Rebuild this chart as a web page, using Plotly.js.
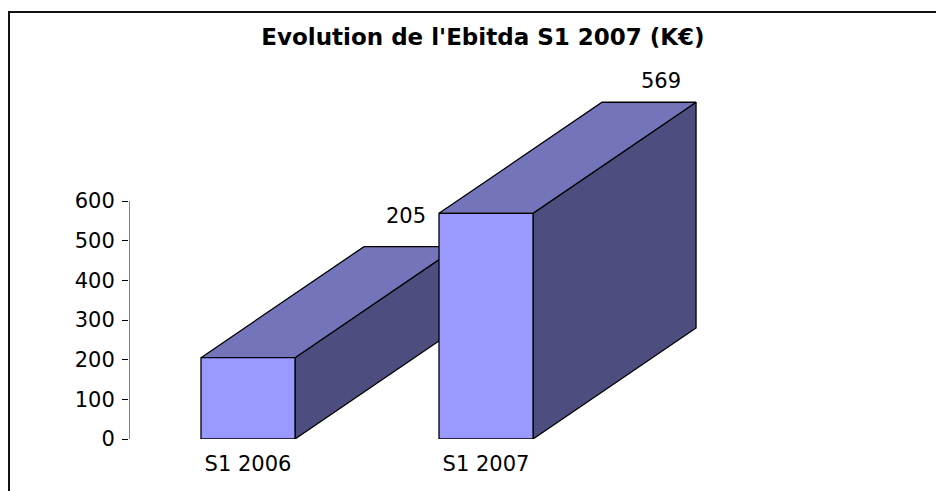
<!DOCTYPE html>
<html lang="fr">

<head>
    <meta charset="UTF-8">
    <title>Evolution de l'Ebitda S1 2007</title>
    <script src="https://cdn.plot.ly/plotly-3.0.1.min.js" charset="utf-8"></script>
    <style>
        body { margin: 0; }
        #wrap { position: relative; width: 936px; height: 491px; overflow: hidden; }
        #frame {
            position: absolute; left: 8px; top: 11px; width: 940px; height: 500px;
            border-top: 2px solid #111; border-left: 2px solid #111; pointer-events: none;
        }
    </style>
</head>

<body>
    <div id="wrap">
        <div id="plot" style="width: 936px; height: 491px;"></div>
        <div id="frame"></div>
    </div>

    <script>
        const categories = ['S1 2006', 'S1 2007'];
        const ebitda = [205, 569];
        const yTicks = [0, 100, 200, 300, 400, 500, 600];

        // fake 3D: depth offset of the boxes, in axis units
        const halfW = 0.1975;
        const depthX = 0.685;
        const depthY = 280;

        const frontColor = '#9999FF';
        const topColor = '#7474BA';
        const sideColor = '#4D4D7F';

        function face(xs, ys, color) {
            return {
                x: xs.concat([xs[0]]),
                y: ys.concat([ys[0]]),
                type: 'scatter',
                mode: 'lines',
                fill: 'toself',
                fillcolor: color,
                line: { color: '#000', width: 1.3 },
                hoverinfo: 'skip',
                showlegend: false
            };
        }

        const traces = [];
        ebitda.forEach((v, i) => {
            const l = i - halfW, r = i + halfW;
            traces.push(face([r, r + depthX, r + depthX, r], [0, depthY, v + depthY, v], sideColor));
            traces.push(face([l, r, r + depthX, l + depthX], [v, v, v + depthY, v + depthY], topColor));
            traces.push(face([l, r, r, l], [0, 0, v, v], frontColor));
        });

        const labelShift = [17, 7];
        const annotations = ebitda.map((v, i) => ({
            x: i + depthX - 0.02 + 0.07 * i,
            y: v + depthY,
            text: String(v),
            showarrow: false,
            yanchor: 'bottom',
            yshift: labelShift[i],
            font: { family: 'DejaVu Sans, Arial', size: 21, color: '#000' }
        }));

        const layout = {
            width: 936,
            height: 491,
            margin: { l: 129, r: 212, t: 60, b: 52 },
            paper_bgcolor: '#fff',
            plot_bgcolor: 'rgba(0,0,0,0)',
            font: { family: 'DejaVu Sans, Arial', size: 21, color: '#000' },
            title: {
                text: "<b>Evolution de l'Ebitda S1 2007 (K€)</b>",
                font: { family: 'DejaVu Sans, Arial', size: 23, color: '#000' },
                x: 0.516, xref: 'container', xanchor: 'center',
                y: 0.924, yref: 'container', yanchor: 'middle'
            },
            xaxis: {
                range: [-0.5, 2.0],
                tickvals: categories.map((c, i) => i),
                ticktext: categories,
                showgrid: false, zeroline: false, showline: false,
                ticks: '', ticklabelstandoff: 10
            },
            yaxis: {
                range: [0, 955.5],
                tickvals: yTicks,
                showgrid: false, zeroline: false, showline: false,
                ticks: 'outside', ticklen: 6, tickwidth: 1, tickcolor: '#000',
                ticklabelstandoff: 3
            },
            shapes: [{
                type: 'line', xref: 'x', yref: 'y',
                x0: -0.5, x1: -0.5, y0: 0, y1: yTicks[yTicks.length - 1],
                line: { color: '#000', width: 1 }
            }],
            annotations: annotations
        };

        Plotly.newPlot('plot', traces, layout, { displayModeBar: false, staticPlot: true });
    </script>
</body>

</html>
